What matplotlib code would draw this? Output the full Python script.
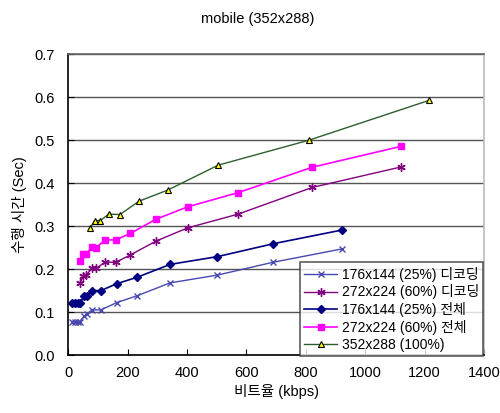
import matplotlib
matplotlib.use("Agg")
import matplotlib.pyplot as plt

plt.rcParams['font.family'] = ['Liberation Sans', 'Noto Sans CJK KR']

# ---- data ----
qcif_x = [13, 22, 31, 40, 52, 62, 80, 110, 163, 232, 343, 502, 690, 922]
qcif_dec = [0.078, 0.078, 0.078, 0.078, 0.090, 0.095, 0.105, 0.105, 0.122, 0.138, 0.168, 0.186, 0.216, 0.247]
qcif_all = [0.120, 0.120, 0.120, 0.120, 0.137, 0.137, 0.150, 0.150, 0.166, 0.181, 0.211, 0.229, 0.259, 0.291]

mid_x = [40, 51, 60, 80, 94, 124, 160, 209, 295, 402, 572, 821, 1122]
mid_dec = [0.168, 0.185, 0.186, 0.202, 0.202, 0.216, 0.216, 0.233, 0.265, 0.296, 0.328, 0.390, 0.438]
mid_all = [0.219, 0.235, 0.235, 0.252, 0.250, 0.268, 0.268, 0.283, 0.316, 0.345, 0.378, 0.437, 0.486]

full_x = [73, 89, 108, 136, 174, 238, 335, 505, 810, 1216]
full_all = [0.295, 0.313, 0.313, 0.328, 0.327, 0.358, 0.384, 0.442, 0.500, 0.593]

labels = ["176x144 (25%) 디코딩", "272x224 (60%) 디코딩", "176x144 (25%) 전체",
          "272x224 (60%) 전체", "352x288 (100%)"]

fig = plt.figure(figsize=(5.0, 4.13), dpi=100)
ax = fig.add_axes([0.1366, 0.1404, 0.8314, 0.7281])

ax.plot(qcif_x, qcif_dec, color="#4848b0", marker="x", ms=5, mew=1, lw=1, label=labels[0])
ax.plot(mid_x, mid_dec, color="#800080", marker=(6, 2, 0), ms=6, mew=1, lw=1, label=labels[1])
ax.plot(qcif_x, qcif_all, color="#000080", marker="D", ms=4, lw=1.2, label=labels[2])
ax.plot(mid_x, mid_all, color="#ff00ff", marker="s", ms=5, lw=1.2, label=labels[3])
ax.plot(full_x, full_all, color="#2e5e2e", marker="^", ms=5, mfc="#ffff00", mec="#000000",
        mew=0.8, lw=1, label=labels[4])

ax.set_xlim(0, 1400)
ax.set_ylim(0, 0.7)
ax.set_xticks(range(0, 1401, 200))
ax.set_yticks([i / 10 for i in range(8)])
ax.set_yticklabels([f"{i / 10:.1f}" for i in range(8)])
ax.yaxis.grid(True, color="#555555", lw=1)
ax.set_axisbelow(True)
ax.tick_params(direction="in", length=4, labelsize=10.5, colors="#000000")
ax.tick_params(axis="x", pad=8)
ax.tick_params(axis="y", pad=10)

ax.spines["left"].set_color("#000000")
ax.spines["bottom"].set_color("#000000")
ax.spines["top"].set_color("#666666")
ax.spines["right"].set_color("#bbbbbb")
for s in ax.spines.values():
    s.set_linewidth(1.2)

ax.set_xlabel("비트율 (kbps)", fontsize=10.5, labelpad=3)
ax.set_ylabel("수행 시간 (Sec)", fontsize=10.5, labelpad=5)
fig.text(0.516, 0.955, "mobile (352x288)", ha="center", va="center", fontsize=10.5)

leg = ax.legend(loc="lower right", bbox_to_anchor=(0.9975, -0.003), fontsize=10,
                frameon=True, fancybox=False, edgecolor="#333333", borderpad=0.3,
                labelspacing=0.2, handlelength=2.4, handletextpad=0.3, borderaxespad=0)
leg.get_frame().set_linewidth(1.2)

fig.savefig("out.png", dpi=100)
